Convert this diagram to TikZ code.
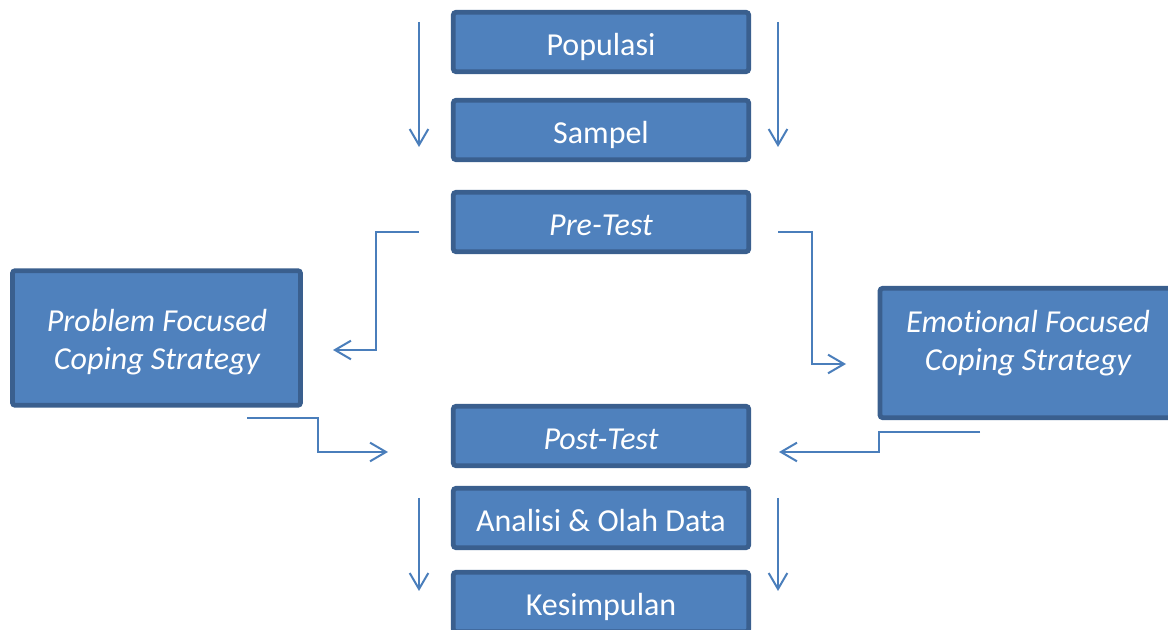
\documentclass[tikz,border=0pt]{standalone}
\usepackage{fontspec}
\setmainfont{Carlito}[Ligatures=NoCommon]
\usetikzlibrary{arrows.meta}
\definecolor{boxfill}{HTML}{4F81BD}
\definecolor{boxline}{HTML}{3A5F8E}
\definecolor{arr}{HTML}{4A7EBB}
\begin{document}
\begin{tikzpicture}[x=0.75pt,y=-0.75pt,
  box/.style={draw=boxline,fill=boxfill,line width=3.6pt,rounded corners=2pt,
    text=white,font=\fontsize{24}{28.5}\selectfont,align=center,inner sep=0pt},
  wide/.style={box,minimum width=221.5pt,minimum height=44.5pt,text height=22pt,text depth=2pt},
  lbl/.style={text=white,font=\fontsize{24}{28.5}\selectfont\itshape,align=center,inner sep=0pt},
  conn/.style={draw=arr,line width=1.5pt,-{Straight Barb[length=12pt,width=14pt,line width=1.5pt]}}]
\useasboundingbox (0,0) rectangle (1168,630);
\clip (0,0) rectangle (1168,630);
\node[wide] (pop) at (601,42) {Populasi};
\node[wide] (sam) at (601,130) {Sampel};
\node[wide] (pre) at (601,222) {\itshape Pre-Test};
\node[box,minimum width=216pt,minimum height=101pt] (pfc) at (156.5,338) {};
\node[lbl] (pfct) at (157,342) {Problem Focused\\Coping Strategy};
\node[box,minimum width=222pt,minimum height=97pt] (efc) at (1028,353) {};
\node[lbl] (efct) at (1028,343) {Emotional Focused\\Coping Strategy};
\node[wide] (post) at (601,436) {\itshape Post-Test};
\node[wide] (ana) at (601,518) {Analisi \& Olah Data};
\node[wide] (kes) at (601,602) {Kesimpulan};
% vertical arrows
\coordinate (a1s) at (419,22); \coordinate (a1e) at (419,147);
\coordinate (a2s) at (778,22); \coordinate (a2e) at (778,147);
\draw[conn] (a1s) -- (a1e);
\draw[conn] (a2s) -- (a2e);
\coordinate (b1s) at (419,498); \coordinate (b1e) at (419,591);
\coordinate (b2s) at (778,498); \coordinate (b2e) at (778,591);
\draw[conn] (b1s) -- (b1e);
\draw[conn] (b2s) -- (b2e);
% pre-test to strategies
\coordinate (c1s) at (419,232); \coordinate (c1e) at (333,350);
\draw[conn] (c1s) -- (376,232) -- (376,350) -- (c1e);
\coordinate (c2s) at (778,232); \coordinate (c2e) at (846,364);
\draw[conn] (c2s) -- (812,232) -- (812,364) -- (c2e);
% strategies to post-test
\coordinate (d1s) at (247,418); \coordinate (d1e) at (388,452);
\draw[conn] (d1s) -- (318,418) -- (318,452) -- (d1e);
\coordinate (d2s) at (980,432); \coordinate (d2e) at (779,452);
\draw[conn] (d2s) -- (879,432) -- (879,452) -- (d2e);
\end{tikzpicture}
\end{document}
